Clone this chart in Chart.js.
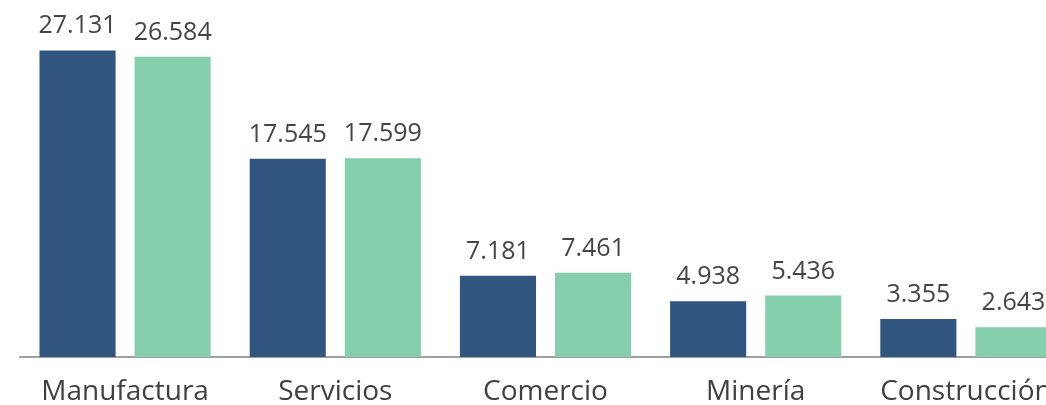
<!DOCTYPE html>
<html>
<head>
<meta charset="utf-8">
<script src="https://cdn.jsdelivr.net/npm/chart.js@4/dist/chart.umd.min.js"></script>
<style>
html,body{margin:0;padding:0;overflow:hidden;background:#fff;}
#wrap{width:1046px;height:405px;overflow:hidden;}
</style>
</head>
<body>
<div id="wrap"><canvas id="c" width="1091" height="427"></canvas></div>
<script>
const categories = ["Manufactura", "Servicios", "Comercio", "Minería", "Construcción"];
const series1 = [27.131, 17.545, 7.181, 4.938, 3.355];
const series2 = [26.584, 17.599, 7.461, 5.436, 2.643];
const seriesNames = ["Serie 1", "Serie 2"];

const fontFamily = "'Open Sans', 'DejaVu Sans', sans-serif";

const valueLabels = {
  id: 'valueLabels',
  afterDatasetsDraw(chart) {
    const ctx = chart.ctx;
    ctx.save();
    ctx.font = "25px " + fontFamily;
    ctx.fillStyle = "#454545";
    ctx.textAlign = "center";
    ctx.textBaseline = "alphabetic";
    chart.data.datasets.forEach((ds, i) => {
      const meta = chart.getDatasetMeta(i);
      meta.data.forEach((el, j) => {
        const v = ds.data[j];
        ctx.fillText(v.toFixed(3), el.x, el.y - 17);
      });
    });
    ctx.restore();
  }
};

new Chart(document.getElementById('c'), {
  type: 'bar',
  data: {
    labels: categories,
    datasets: [
      { label: seriesNames[0], data: series1, backgroundColor: '#30557F', categoryPercentage: 0.905, barPercentage: 0.8 },
      { label: seriesNames[1], data: series2, backgroundColor: '#85CFAD', categoryPercentage: 0.905, barPercentage: 0.8 }
    ]
  },
  options: {
    responsive: false,
    animation: false,
    layout: { padding: { left: 20, right: 20, top: 0, bottom: 0 } },
    plugins: { legend: { display: false }, tooltip: { enabled: false } },
    scales: {
      x: {
        grid: { display: false, drawTicks: false },
        border: { display: true, color: '#A0A0A0', width: 2 },
        ticks: { color: '#404040', font: { family: fontFamily, size: 28, lineHeight: 1 }, padding: 21, maxRotation: 0, autoSkip: false }
      },
      y: {
        display: false,
        min: 0,
        max: 31.6
      }
    }
  },
  plugins: [valueLabels]
});
</script>
</body>
</html>
